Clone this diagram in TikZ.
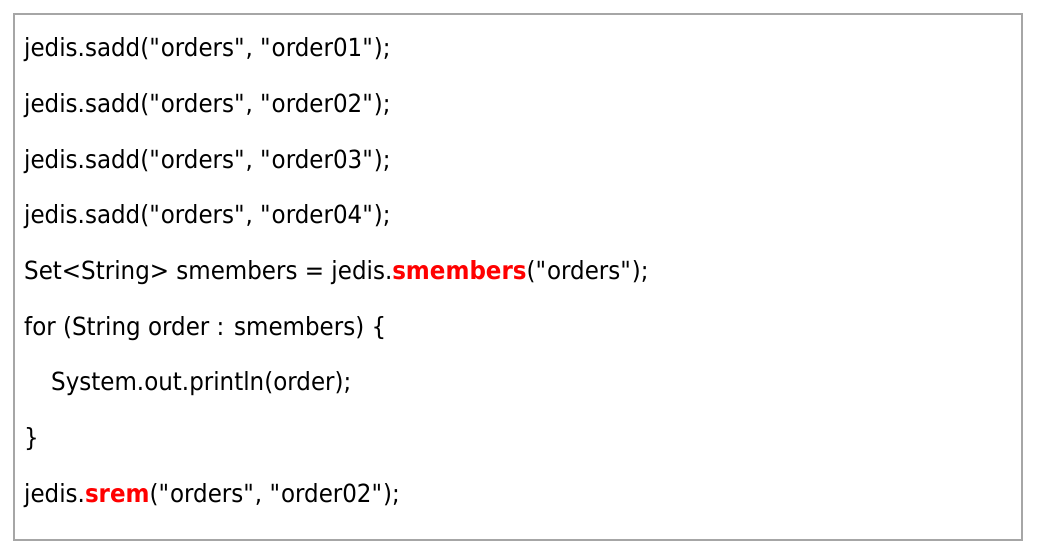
\documentclass[tikz,border=0pt]{standalone}
\usepackage{fontspec}
\setmainfont{DejaVu Sans}[FakeStretch=0.92]

\definecolor{framegray}{HTML}{A6A6A6}
\definecolor{callred}{HTML}{FF0000}

\newcommand{\redcall}[1]{\textcolor{callred}{\textbf{#1}}}
% straight double quote, set as a glyph so that no TeX mapping curls it
\newcommand{\dq}{\XeTeXglyph\XeTeXcharglyph"22\relax}

\begin{document}
\begin{tikzpicture}[x=1pt,y=-1pt,
    codeline/.style={anchor=base west, inner sep=0pt, font=\fontsize{25}{30}\selectfont}]
    \useasboundingbox (0,0) rectangle (1050,550);

    % Frame round the code
    \draw[framegray, line width=2.2pt] (14,14) rectangle (1022,540);

    % Adding the members
    \node[codeline] (add1) at (24,56.6) {jedis.sadd(\dq orders\dq, \dq order01\dq);};
    \node[codeline] (add2) at (24,112.3) {jedis.sadd(\dq orders\dq, \dq order02\dq);};
    \node[codeline] (add3) at (24,168.0) {jedis.sadd(\dq orders\dq, \dq order03\dq);};
    \node[codeline] (add4) at (24,223.7) {jedis.sadd(\dq orders\dq, \dq order04\dq);};

    % Reading them back
    \node[codeline] (members) at (24,279.4) {Set<String> smembers = jedis.\redcall{smembers}(\dq orders\dq);};
    \node[codeline] (loop) at (24,335.1) {for (String order : smembers) \{};
    \node[codeline] (print) at (51,390.8) {System.out.println(order);};
    \node[codeline] (close) at (24,446.5) {\}};

    % Removing one
    \node[codeline] (remove) at (24,502.2) {jedis.\redcall{srem}(\dq orders\dq, \dq order02\dq);};
\end{tikzpicture}
\end{document}
